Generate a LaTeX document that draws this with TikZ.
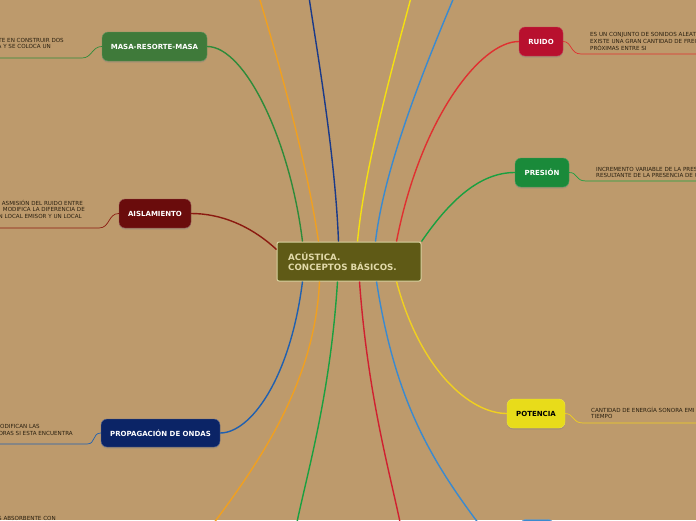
\documentclass[tikz,border=0pt]{standalone}
\usepackage{fontspec}
\setmainfont{DejaVu Sans}
\usetikzlibrary{calc,shadows}
\definecolor{bg}{HTML}{BD9A6C}
\definecolor{txt}{HTML}{2A2010}
\definecolor{cmasa}{HTML}{3F7A3A}
\definecolor{caisl}{HTML}{6A0C0C}
\definecolor{cprop}{HTML}{0B2466}
\definecolor{cruido}{HTML}{B8102E}
\definecolor{cpres}{HTML}{1A8A3A}
\definecolor{cpot}{HTML}{E8DC1A}
\definecolor{ccent}{HTML}{5F5A16}
\definecolor{lgreen}{HTML}{2E8B3A}
\definecolor{lorange}{HTML}{F0A020}
\definecolor{lnavy}{HTML}{1A3A8A}
\definecolor{lyellow}{HTML}{F5E010}
\definecolor{lblue}{HTML}{3A8AD0}
\definecolor{lred}{HTML}{E03030}
\definecolor{lgreen2}{HTML}{1AA040}
\definecolor{ldred}{HTML}{8B1A10}
\definecolor{lblue2}{HTML}{2060B0}
\definecolor{lred2}{HTML}{D02030}
\definecolor{lyellow2}{HTML}{F0D020}
\tikzset{
 topic/.style={rounded corners=6pt, minimum height=29pt, inner sep=0pt,
   font=\fontsize{7}{8}\selectfont\bfseries, text=white,
   drop shadow={shadow xshift=0pt, shadow yshift=-1.5pt, opacity=0.35}},
 note/.style={font=\fontsize{5.6}{6.5}\selectfont, text=txt, inner sep=0pt},
 main/.style={line width=1.4pt},
 sub/.style={line width=0.7pt}
}
\begin{document}
\begin{tikzpicture}[x=1pt,y=-1pt]
\fill[bg] (0,0) rectangle (696,520);
\useasboundingbox (0,0) rectangle (696,520);

% central node
\node[draw={rgb,255:red,216;green,211;blue,160}, line width=1pt, fill=ccent, rounded corners=2pt,
  minimum width=144pt, minimum height=39pt, inner sep=0pt] (c) at (349,261.5) {};
\node[anchor=west, align=left, inner sep=0pt, text={rgb,255:red,226;green,218;blue,170},
  font=\fontsize{8.7}{10}\selectfont\bfseries] (ct) at (288,261.5) {ACÚSTICA.\\CONCEPTOS BÁSICOS.};

% off-canvas ends
\coordinate (t1) at (257,-10);
\coordinate (t2) at (308,-10);
\coordinate (t3) at (413,-10);
\coordinate (t4) at (457,-10);
\coordinate (b1) at (207,532);
\coordinate (b2) at (295,532);
\coordinate (b3) at (402,532);
\coordinate (b4) at (485,532);

% topic nodes
\node[topic, fill=cmasa, draw=cmasa!80!white, minimum width=105pt] (masa) at (154.5,46.5) {MASA-RESORTE-MASA};
\node[topic, fill=caisl, draw=caisl!70!white, minimum width=72pt] (aisl) at (155,213.5) {AISLAMIENTO};
\node[topic, fill=cprop, draw=cprop!70!white, minimum width=119pt, minimum height=28pt] (prop) at (160.5,433) {PROPAGACIÓN DE ONDAS};
\node[topic, fill=cruido, draw=cruido!80!white, minimum width=44pt] (ruido) at (541,41.5) {RUIDO};
\node[topic, fill=cpres, draw=cpres!80!white, minimum width=54pt] (pres) at (542,172.5) {PRESIÓN};
\node[topic, fill=cpot, draw=cpot!80!white, minimum width=58pt, text=black] (pot) at (536,413.5) {POTENCIA};
\node[topic, fill=lblue, draw=lblue!80!white, minimum width=34pt, anchor=north] (blt) at (537,519.3) {};

% main connectors
\draw[main, lgreen] ($(c.north west)+(26,0)$) .. controls (290,140) and (245,46.5) .. (masa.east);
\draw[main, lorange] ($(c.north west)+(42,0)$) .. controls (305,150) and (272,40) .. (t1);
\draw[main, lnavy] ($(c.north west)+(62,0)$) .. controls (335,150) and (315,40) .. (t2);
\draw[main, lyellow] ($(c.north west)+(81,0)$) .. controls (365,160) and (400,40) .. (t3);
\draw[main, lblue] ($(c.north west)+(99,0)$) .. controls (385,160) and (432,50) .. (t4);
\draw[main, lred] ($(c.north west)+(120,0)$) .. controls (420,120) and (480,41.5) .. (ruido.west);
\draw[main, lgreen2] (c.north east) .. controls (450,200) and (480,172.5) .. (pres.west);
\draw[main, ldred] ($(c.north west)+(0,8)$) .. controls (250,225) and (220,213.5) .. (aisl.east);
\draw[main, lblue2] ($(c.south west)+(26,0)$) .. controls (290,380) and (250,433) .. (prop.east);
\draw[main, lorange] ($(c.south west)+(43,0)$) .. controls (315,380) and (262,460) .. (b1);
\draw[main, lgreen2] ($(c.south west)+(61,0)$) .. controls (330,400) and (305,480) .. (b2);
\draw[main, lred2] ($(c.south west)+(83,0)$) .. controls (368,400) and (392,480) .. (b3);
\draw[main, lblue] ($(c.south west)+(100,0)$) .. controls (395,400) and (430,460) .. (b4);
\draw[main, lyellow2] ($(c.south west)+(120,0)$) .. controls (420,370) and (470,413.5) .. (pot.west);

% note coordinates
\coordinate (nm) at (-5,58);
\coordinate (na) at (-5,228);
\coordinate (np) at (-5,444);
\coordinate (nr) at (700,54);
\coordinate (npr) at (700,181);
\coordinate (npo) at (700,423);

% underline connectors
\draw[sub, lgreen] (masa.west) .. controls (92,46.5) and (92,58) .. (82,58) -- (nm);
\draw[sub, ldred] (aisl.west) .. controls (108,213.5) and (110,228) .. (99,228) -- (na);
\draw[sub, lblue2] (prop.west) .. controls (92,433) and (96,444) .. (87,444) -- (np);
\draw[sub, lred] (ruido.east) .. controls (572,41.5) and (570,54) .. (581,54) -- (nr);
\draw[sub, lgreen2] (pres.east) .. controls (578,172.5) and (575,181) .. (586,181) -- (npr);
\draw[sub, lyellow2] (pot.east) .. controls (574,413.5) and (572,423) .. (583,423) -- (npo);

% notes
\node[note, anchor=east] (m1) at (64,40.5) {TE EN CONSTRUIR DOS};
\node[note, anchor=east] (m2) at (51,46.5) {A Y SE COLOCA UN};
\node[note, anchor=east] (a1) at (83,203) {ASMISIÓN DEL RUIDO ENTRE};
\node[note, anchor=east] (a2) at (85,209.5) {MODIFICA LA DIFERENCIA DE};
\node[note, anchor=east] (a3) at (82,216) {N LOCAL EMISOR Y UN LOCAL};
\node[note, anchor=east] (p1) at (40,426.5) {ODIFICAN LAS};
\node[note, anchor=east] (p2) at (73,433) {ORAS SI ESTA ENCUENTRA};
\node[note, anchor=east] (bl) at (56,518) {S ABSORBENTE CON};
\node[note, anchor=west] (r1) at (590,35) {ES UN CONJUNTO DE SONIDOS ALEAT};
\node[note, anchor=west] (r2) at (590,41.5) {EXISTE UNA GRAN CANTIDAD DE FREC};
\node[note, anchor=west] (r3) at (590,48) {PRÓXIMAS ENTRE SI};
\node[note, anchor=west] (s1) at (596,169) {INCREMENTO VARIABLE DE LA PRES};
\node[note, anchor=west] (s2) at (596,175.5) {RESULTANTE DE LA PRESENCIA DE U};
\node[note, anchor=west] (o1) at (591,410) {CANTIDAD DE ENERGÍA SONORA EMI};
\node[note, anchor=west] (o2) at (591,416.5) {TIEMPO};
\end{tikzpicture}
\end{document}
